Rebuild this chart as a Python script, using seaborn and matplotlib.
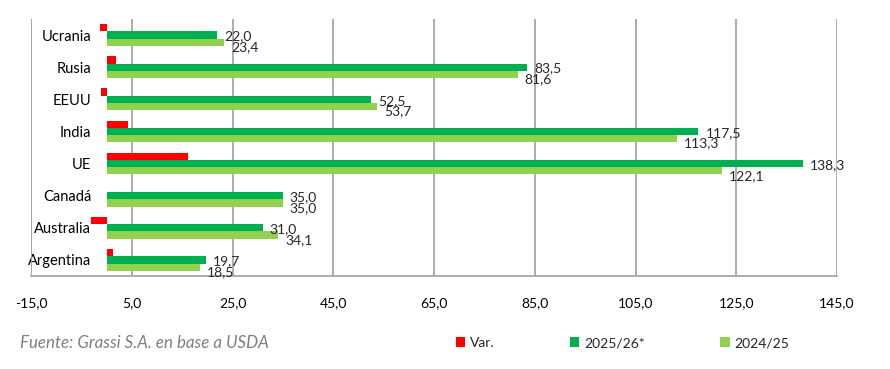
import matplotlib
matplotlib.use('Agg')
import matplotlib.pyplot as plt
from matplotlib.ticker import FixedLocator, FuncFormatter
import seaborn as sns
import pandas as pd

# Datos (millones de t)
countries = ["Ucrania", "Rusia", "EEUU", "India", "UE", "Canadá", "Australia", "Argentina"]
var = [-1.4, 1.9, -1.2, 4.2, 16.2, 0.1, -3.1, 1.2]
prod_2526 = [22.0, 83.5, 52.5, 117.5, 138.3, 35.0, 31.0, 19.7]
prod_2425 = [23.4, 81.6, 53.7, 113.3, 122.1, 35.0, 34.1, 18.5]
series = ["Var.", "2025/26*", "2024/25"]
x_ticks = [-15, 5, 25, 45, 65, 85, 105, 125, 145]

sns.set_style("white")
plt.rcParams['font.family'] = ['Lato', 'DejaVu Sans']

df = pd.DataFrame({
    "País": countries * 3,
    "Valor": var + prod_2526 + prod_2425,
    "Serie": [series[0]] * 8 + [series[1]] * 8 + [series[2]] * 8,
})

fig = plt.figure(figsize=(8.9, 3.69), dpi=100)
ax = fig.add_axes([31 / 890, 0.252, 806 / 890, 0.6965])

sns.barplot(data=df, y="País", x="Valor", hue="Serie", hue_order=series, order=countries,
            orient="h", palette=["#FF0000", "#00B050", "#92D050"], width=0.68,
            saturation=1, linewidth=0, ax=ax)

fmt = lambda v: f"{v:.1f}".replace(".", ",")
for i, dy in [(1, -1), (2, -3.5)]:
    texts = ax.bar_label(ax.containers[i], labels=[fmt(v) for v in ax.containers[i].datavalues],
                         padding=5, fontsize=10, color="#262626")
    for t in texts:
        t.xyann = (5, dy)

# ejes
ax.set_xlim(-15, 145)
ax.set_ylim(7.5, -0.5)
ax.xaxis.set_major_locator(FixedLocator(x_ticks))
ax.xaxis.set_major_formatter(FuncFormatter(lambda v, p: f"{v:.1f}".replace(".", ",")))
ax.grid(axis="x", color="#A6A6A6", linewidth=1.3)
ax.set_axisbelow(True)
ax.set_xlabel("")
ax.set_ylabel("")

for s in ["top", "right"]:
    ax.spines[s].set_visible(False)
ax.spines["bottom"].set_color("#A6A6A6")
ax.spines["bottom"].set_linewidth(1.3)
ax.spines["left"].set_position(("data", 0))
ax.spines["left"].set_visible(False)
ax.axvline(-15, color="#A6A6A6", linewidth=1.3)

ax.set_yticks(range(len(countries)))
ax.set_yticklabels(countries)
ax.yaxis.set_minor_locator(FixedLocator([i - 0.5 for i in range(len(countries) + 1)]))
ax.tick_params(axis="y", which="major", length=0, pad=11, labelsize=10.5, labelcolor="#000000")
ax.tick_params(axis="y", which="minor", length=4.5, width=1, color="#A6A6A6", direction="out")
ax.tick_params(axis="x", length=3, width=1, color="#A6A6A6", direction="out", pad=12,
               labelsize=10, labelcolor="#000000")

# leyenda
handles, labels = ax.get_legend_handles_labels()
ax.get_legend().remove()
fig.legend(handles, labels, loc="center left", bbox_to_anchor=(443 / 890, 1 - 343 / 369),
           ncol=3, frameon=False, handlelength=0.7, handleheight=0.7, handletextpad=0.35,
           columnspacing=5.4, fontsize=10, labelcolor="#262626")

fig.text(20 / 890, 1 - 343 / 369, "Fuente: Grassi S.A. en base a USDA", style="italic",
         color="#7F7F7F", fontsize=12.2, va="center", ha="left")

fig.savefig("out.png", dpi=100)
